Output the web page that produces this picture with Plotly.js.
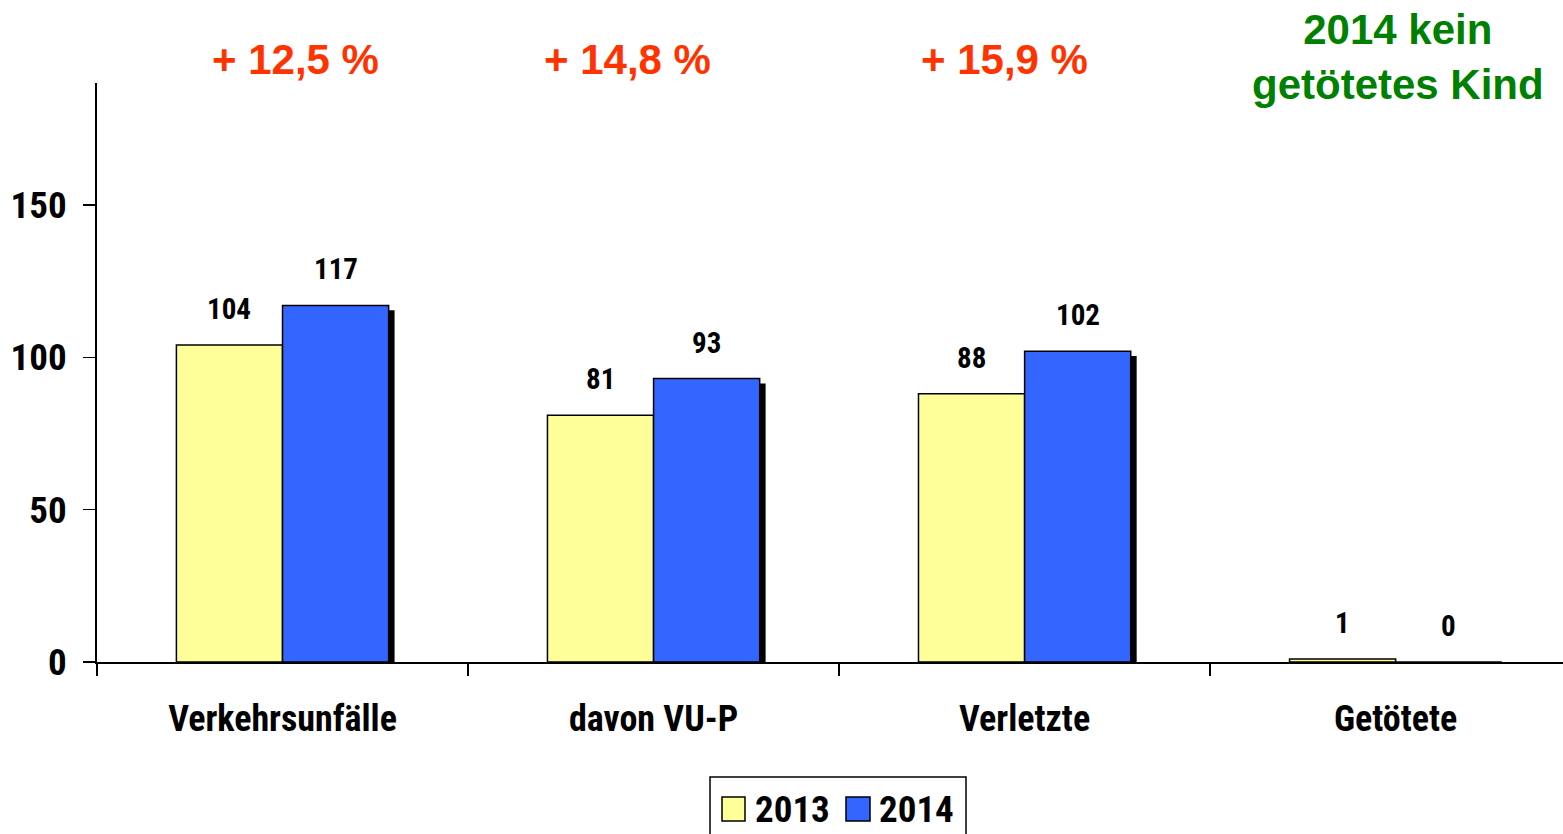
<!DOCTYPE html>
<html><head><meta charset="utf-8">
<script src="https://cdn.plot.ly/plotly-3.0.1.min.js"></script>
<style>html,body{margin:0;padding:0;background:#fff;}#chart{width:1563px;height:834px;}
text[style*="Roboto"]{font-stretch:75%;}
</style>
</head><body><div id="chart"></div>
<script>
const categories = ["Verkehrsunfälle", "davon VU-P", "Verletzte", "Getötete"];
const values2013 = [104, 81, 88, 1];
const values2014 = [117, 93, 102, 0];
const seriesNames = ["2013", "2014"];
const changeLabels = ["+ 12,5 %", "+ 14,8 %", "+ 15,9 %"];
const noteText = "2014 kein<br>getötetes Kind";
const yTicks = [0, 50, 100, 150];

const narrow = "Roboto, sans-serif";
const wide = "'Liberation Sans', Arial, sans-serif";
const W = 0.286, SH = 0.016, SD = 1.6;

const traces = [
  {type:'bar', x:categories, y:values2013, base:-SD, offset:-W+SH, width:W, marker:{color:'#000'}, showlegend:false, hoverinfo:'skip'},
  {type:'bar', x:categories, y:values2014, base:-SD, offset:SH, width:W, marker:{color:'#000'}, showlegend:false, hoverinfo:'skip'},
  {type:'bar', name:seriesNames[0], x:categories, y:values2013, offset:-W, width:W, marker:{color:'#FFFF99', line:{color:'#000', width:1.5}}, showlegend:false},
  {type:'bar', name:seriesNames[1], x:categories, y:values2014, offset:0, width:W, marker:{color:'#3366FF', line:{color:'#000', width:1.5}}, showlegend:false}
];

const ann = [];
categories.forEach((c,i)=>{
  ann.push({x:i-W/2, y:values2013[i], text:String(values2013[i]), showarrow:false, yshift:36, yanchor:'middle', font:{family:narrow, size:29, color:'#000', weight:'bold'}});
  ann.push({x:i+W/2, y:values2014[i], text:String(values2014[i]), showarrow:false, yshift:36, yanchor:'middle', font:{family:narrow, size:29, color:'#000', weight:'bold'}});
});
const changeX = [0.034, 0.93, 1.947];
changeLabels.forEach((t,i)=>{
  ann.push({x:changeX[i], xref:'x', y:1.04, yref:'paper', text:t, showarrow:false, yanchor:'middle', font:{family:wide, size:42, color:'#FF3300', weight:'bold'}});
});
ann.push({x:3.007, xref:'x', y:1.045, yref:'paper', text:noteText, showarrow:false, yanchor:'middle', align:'center', font:{family:wide, size:42, color:'#008000', weight:'bold'}});

// custom legend (paper coords)
const px = v => (v-97)/1466, py = v => (662-v)/579;
const shapes = [
  {type:'rect', xref:'paper', yref:'paper', x0:px(710), x1:px(966), y0:py(777), y1:py(850), line:{color:'#000', width:1.5}, fillcolor:'rgba(0,0,0,0)'},
  {type:'rect', xref:'paper', yref:'paper', x0:px(722), x1:px(745), y0:py(797), y1:py(821), line:{color:'#000', width:1.5}, fillcolor:'#FFFF99'},
  {type:'rect', xref:'paper', yref:'paper', x0:px(846), x1:px(870), y0:py(797), y1:py(821), line:{color:'#000', width:1.5}, fillcolor:'#3366FF'}
];
ann.push({xref:'paper', yref:'paper', x:px(753), y:py(809), xanchor:'left', yanchor:'middle', text:seriesNames[0], showarrow:false, font:{family:narrow, size:37, color:'#000', weight:'bold'}});
ann.push({xref:'paper', yref:'paper', x:px(877), y:py(809), xanchor:'left', yanchor:'middle', text:seriesNames[1], showarrow:false, font:{family:narrow, size:37, color:'#000', weight:'bold'}});

const layout = {
  width:1563, height:834,
  margin:{l:97, r:0, t:83, b:172, autoexpand:false},
  paper_bgcolor:'#fff', plot_bgcolor:'#fff',
  barmode:'overlay',
  showlegend:false,
  xaxis:{type:'category', range:[-0.5, 3.451], showline:true, linecolor:'#000', linewidth:2, ticks:'outside', tickson:'boundaries', ticklen:12, tickwidth:1.5, tickcolor:'#000', showgrid:false, zeroline:false, tickfont:{family:narrow, size:36, color:'#000', weight:'bold'}, ticklabelstandoff:24},
  yaxis:{range:[0,190], tickvals:yTicks, showline:true, linecolor:'#000', linewidth:2, ticks:'outside', ticklen:12, tickwidth:1.5, tickcolor:'#000', showgrid:false, zeroline:false, tickfont:{family:narrow, size:37, color:'#000', weight:'bold'}, ticklabelstandoff:9},
  annotations:ann, shapes:shapes
};
Plotly.newPlot('chart', traces, layout, {displayModeBar:false, staticPlot:true});
</script></body></html>
